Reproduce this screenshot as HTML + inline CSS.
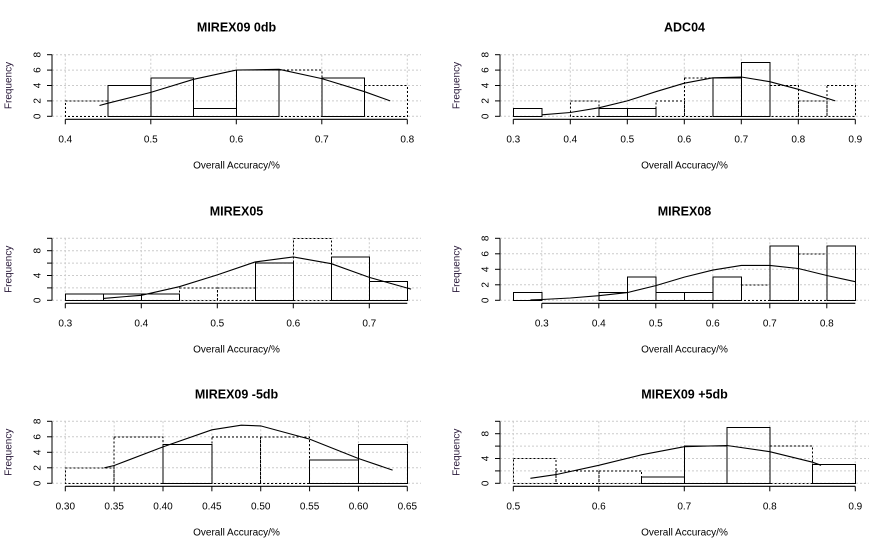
<!DOCTYPE html>
<html><head><meta charset="utf-8">
<style>
html,body{margin:0;padding:0;background:#fff;}
svg{display:block;font-family:"Liberation Sans",Arial,sans-serif;}
</style></head>
<body>
<svg id="chart" width="896" height="551" viewBox="0 0 896 551" xmlns="http://www.w3.org/2000/svg"></svg>
<script>
// ---- data ----
const titles = ["MIREX09 0db","ADC04","MIREX05","MIREX08","MIREX09 -5db","MIREX09 +5db"];
const binStarts = [0.40,0.30,0.30,0.25,0.30,0.50];
const binWidth = 0.05;
const dottedCounts = [
  [2,4,5,1,6,6,5,4],
  [1,0,2,1,1,2,5,5,7,4,2,4],
  [1,1,1,2,2,6,10,7,3],
  [1,0,0,1,3,1,1,3,2,7,6,7],
  [2,6,5,6,6,3,5],
  [4,2,2,1,6,9,6,3]
];
const solidCounts = [
  [0,4,5,1,6,0,5,0],
  [1,0,0,1,1,0,0,5,7,0,0,0],
  [1,1,1,0,0,6,0,7,3],
  [1,0,0,1,3,1,1,3,0,7,0,7],
  [0,0,5,0,0,3,5],
  [0,0,0,1,6,9,0,3]
];
const curveX = [
  [0.44,0.45,0.5,0.55,0.6,0.65,0.7,0.75,0.78],
  [0.35,0.4,0.45,0.5,0.55,0.6,0.65,0.7,0.75,0.8,0.865],
  [0.35,0.4,0.45,0.5,0.55,0.6,0.65,0.7,0.755],
  [0.28,0.3,0.35,0.4,0.45,0.5,0.55,0.6,0.65,0.7,0.75,0.8,0.85],
  [0.34,0.35,0.4,0.45,0.48,0.5,0.55,0.6,0.635],
  [0.52,0.55,0.6,0.65,0.7,0.75,0.8,0.85,0.86]
];
const curveY = [
  [1.4,1.7,3.1,4.8,6.0,6.1,4.9,3.2,2.0],
  [0.2,0.5,1.1,2.0,3.2,4.3,5.0,5.1,4.5,3.5,2.0],
  [0.3,0.8,2.2,4.1,6.2,7.0,5.9,3.7,1.8],
  [0.05,0.1,0.3,0.6,1.0,1.9,3.0,3.9,4.5,4.5,4.1,3.2,2.4],
  [2.0,2.3,4.7,6.9,7.5,7.4,5.7,3.2,1.7],
  [0.8,1.4,2.9,4.6,5.9,6.1,5.1,3.4,2.9]
];
const xTickLabels = [
  ["0.4","0.5","0.6","0.7","0.8"],
  ["0.3","0.4","0.5","0.6","0.7","0.8","0.9"],
  ["0.3","0.4","0.5","0.6","0.7"],
  ["0.3","0.4","0.5","0.6","0.7","0.8"],
  ["0.30","0.35","0.40","0.45","0.50","0.55","0.60","0.65"],
  ["0.5","0.6","0.7","0.8","0.9"]
];
const yMax = [8,8,10,8,8,10];
const yTickLabels = [
  ["0","2","4","6","8"],["0","2","4","6","8"],
  ["0","4","8"],["0","2","4","6","8"],
  ["0","2","4","6","8"],["0","4","8"]
];
// ---- layout ----
const NS="http://www.w3.org/2000/svg";
const svg=document.getElementById('chart');
function mk(tag,attrs,parent){const e=document.createElementNS(NS,tag);for(const k in attrs)e.setAttribute(k,attrs[k]);(parent||svg).appendChild(e);return e;}

const colLayout=[{ax:52,px0:65.3,right:421},{ax:500,px0:513.3,right:869}];
const rowY0=[116.3,300.3,483.3];
const rowYTop=[54.7,238.3,421.3];

for(let p=0;p<6;p++){
  const col=colLayout[p%2], r=Math.floor(p/2);
  const g=mk('g',{});
  
  
  const nb=dottedCounts[p].length;
  const xmin=binStarts[p], xmaxData=xmin+nb*binWidth;
  const ticks=xTickLabels[p].map(Number);
  const xs=(col.right-13.7-col.px0)/(xmaxData-xmin);
  const X=v=>col.px0+(v-xmin)*xs;
  const y0=rowY0[r], yt=rowYTop[r], ym=yMax[p];
  const Y=v=>y0-(v/ym)*(y0-yt);
  // grid
  for(let v=0;v<=ym;v+=2){
    const l=mk('line',{x1:col.ax,x2:col.right,y1:Y(v),y2:Y(v),stroke:'#ccc','stroke-dasharray':'2,2'},g);
    
  }
  ticks.forEach(t=>{
    const l=mk('line',{x1:X(t),x2:X(t),y1:yt,y2:y0,stroke:'#ccc','stroke-dasharray':'2,2'},g);
    
  });
  // dotted hist
  dottedCounts[p].forEach((c,i)=>{
    const x0=X(xmin+i*binWidth), x1=X(xmin+(i+1)*binWidth);
    const b=mk('rect',{x:x0,y:Y(c),width:x1-x0,height:y0-Y(c),fill:'none',stroke:'#000','stroke-width':1,'stroke-dasharray':'2,2','shape-rendering':'crispEdges'},g);
    
  });
  solidCounts[p].forEach((c,i)=>{
    if(!c)return;
    const x0=X(xmin+i*binWidth), x1=X(xmin+(i+1)*binWidth);
    const b=mk('rect',{x:x0,y:Y(c),width:x1-x0,height:y0-Y(c),fill:'none',stroke:'#000','stroke-width':1,'shape-rendering':'crispEdges'},g);
    
  });
  // curve
  const pts=curveX[p].map((x,i)=>X(x).toFixed(1)+','+Y(curveY[p][i]).toFixed(1)).join(' ');
  const cv=mk('polyline',{points:pts,fill:'none',stroke:'#000','stroke-width':1.1},g);
  
  // y axis
  const ya=mk('line',{x1:col.ax,x2:col.ax,y1:Y(ym),y2:y0,stroke:'#000','shape-rendering':'crispEdges'},g);
  
  for(let v=0;v<=ym;v+=2) mk('line',{x1:col.ax-5,x2:col.ax,y1:Y(v),y2:Y(v),stroke:'#000'},g);
  yTickLabels[p].forEach(s=>{
    const v=Number(s), yy=Y(v), xx=col.ax-14;
    const t=mk('text',{x:xx,y:yy,'font-size':10,'text-anchor':'middle','dominant-baseline':'central',transform:`rotate(-90 ${xx} ${yy})`},g);
    t.textContent=s;
  });
  const fx=col.ax-43, fy=(y0+Y(ym))/2;
  const fl=mk('text',{x:fx,y:fy,'font-size':10,fill:'#2a1a3a','text-anchor':'middle','dominant-baseline':'central',transform:`rotate(-90 ${fx} ${fy})`},g);
  fl.textContent='Frequency';
  // x axis
  const xy=y0+3;
  const xa=mk('line',{x1:X(ticks[0]),x2:Math.max(X(ticks[ticks.length-1]),X(xmaxData)),y1:xy,y2:xy,stroke:'#000','stroke-width':1.2},g);
  
  ticks.forEach((t,i)=>{
    mk('line',{x1:X(t),x2:X(t),y1:xy,y2:xy+5,stroke:'#000'},g);
    const tl=mk('text',{x:X(t),y:xy+23,'font-size':10,'text-anchor':'middle'},g);
    tl.textContent=xTickLabels[p][i];
  });
  const cx=(col.ax+col.right)/2;
  const xl=mk('text',{x:cx,y:xy+49,'font-size':10,'text-anchor':'middle'},g);
  xl.textContent='Overall Accuracy/%';
  const tt=mk('text',{x:cx,y:y0-85,'font-size':12.5,'font-weight':'bold','text-anchor':'middle'},g);
  tt.textContent=titles[p];
}
</script>
</body></html>
